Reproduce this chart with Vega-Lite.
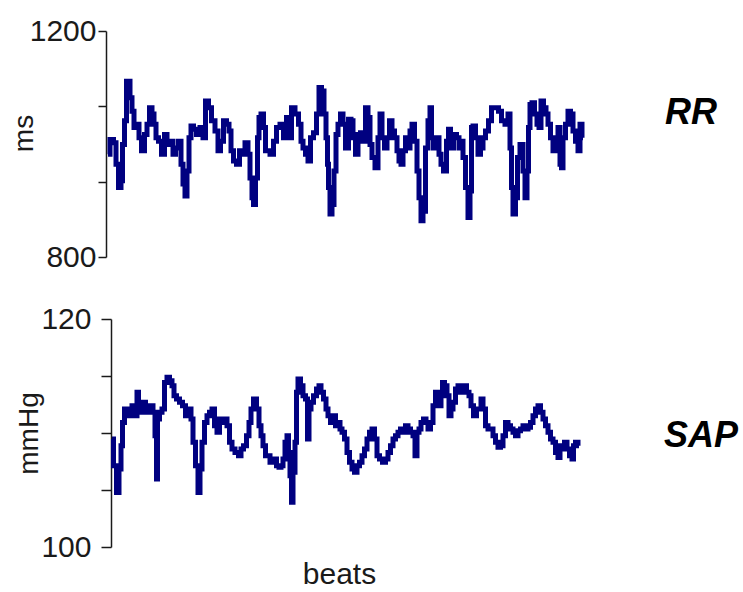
{
  "$schema": "https://vega.github.io/schema/vega-lite/v6.json",
  "background": "white",
  "padding": {"left": 10, "top": 16, "right": 0, "bottom": 0},
  "spacing": 32,
  "datasets": {
    "rr": [
      {"beat":2,"ms":982},{"beat":6,"ms":1008},{"beat":9,"ms":1002},{"beat":11,"ms":964},{"beat":14,"ms":923},{"beat":16,"ms":935},{"beat":17,"ms":999},{"beat":20,"ms":1041},{"beat":21,"ms":1111},{"beat":23,"ms":1111},{"beat":25,"ms":1082},{"beat":27,"ms":1058},{"beat":29,"ms":1029},{"beat":32,"ms":1035},{"beat":34,"ms":1011},{"beat":37,"ms":988},{"beat":40,"ms":1017},{"beat":42,"ms":1035},{"beat":45,"ms":1064},{"beat":47,"ms":1053},{"beat":49,"ms":1035},{"beat":51,"ms":1011},{"beat":54,"ms":1005},{"beat":57,"ms":982},{"beat":60,"ms":1017},{"beat":62,"ms":999},{"beat":66,"ms":1005},{"beat":68,"ms":982},{"beat":71,"ms":993},{"beat":74,"ms":1005},{"beat":76,"ms":964},{"beat":78,"ms":929},{"beat":80,"ms":908},{"beat":82,"ms":952},{"beat":84,"ms":1011},{"beat":86,"ms":1032},{"beat":89,"ms":1026},{"beat":92,"ms":1017},{"beat":96,"ms":1029},{"beat":98,"ms":1011},{"beat":101,"ms":1076},{"beat":104,"ms":1064},{"beat":107,"ms":1041},{"beat":111,"ms":1023},{"beat":113,"ms":988},{"beat":116,"ms":1005},{"beat":119,"ms":1041},{"beat":122,"ms":1035},{"beat":124,"ms":1023},{"beat":126,"ms":988},{"beat":129,"ms":970},{"beat":132,"ms":964},{"beat":135,"ms":988},{"beat":137,"ms":982},{"beat":141,"ms":1002},{"beat":143,"ms":982},{"beat":145,"ms":940},{"beat":147,"ms":905},{"beat":148,"ms":893},{"beat":151,"ms":940},{"beat":152,"ms":1011},{"beat":154,"ms":1047},{"beat":156,"ms":1053},{"beat":159,"ms":1029},{"beat":160,"ms":988},{"beat":162,"ms":988},{"beat":166,"ms":982},{"beat":169,"ms":1005},{"beat":172,"ms":1029},{"beat":176,"ms":1035},{"beat":179,"ms":1011},{"beat":182,"ms":1047},{"beat":184,"ms":1011},{"beat":187,"ms":1064},{"beat":191,"ms":1053},{"beat":194,"ms":1035},{"beat":196,"ms":1005},{"beat":198,"ms":993},{"beat":201,"ms":982},{"beat":203,"ms":970},{"beat":206,"ms":1011},{"beat":209,"ms":1020},{"beat":212,"ms":1053},{"beat":214,"ms":1100},{"beat":217,"ms":1094},{"beat":219,"ms":1053},{"beat":221,"ms":1011},{"beat":222,"ms":964},{"beat":223,"ms":923},{"beat":225,"ms":876},{"beat":227,"ms":893},{"beat":229,"ms":952},{"beat":231,"ms":1017},{"beat":233,"ms":1035},{"beat":236,"ms":1053},{"beat":238,"ms":1035},{"beat":241,"ms":993},{"beat":244,"ms":1044},{"beat":246,"ms":1041},{"beat":248,"ms":1011},{"beat":251,"ms":982},{"beat":253,"ms":1017},{"beat":256,"ms":1020},{"beat":258,"ms":1005},{"beat":261,"ms":1064},{"beat":263,"ms":1047},{"beat":265,"ms":999},{"beat":267,"ms":976},{"beat":271,"ms":958},{"beat":273,"ms":1011},{"beat":275,"ms":1053},{"beat":277,"ms":1011},{"beat":280,"ms":993},{"beat":282,"ms":1011},{"beat":285,"ms":1041},{"beat":287,"ms":1023},{"beat":290,"ms":1011},{"beat":292,"ms":988},{"beat":294,"ms":970},{"beat":296,"ms":964},{"beat":298,"ms":988},{"beat":301,"ms":1011},{"beat":303,"ms":993},{"beat":305,"ms":1023},{"beat":307,"ms":1035},{"beat":310,"ms":1005},{"beat":312,"ms":952},{"beat":314,"ms":905},{"beat":316,"ms":864},{"beat":318,"ms":881},{"beat":321,"ms":993},{"beat":323,"ms":1041},{"beat":325,"ms":1064},{"beat":326,"ms":1011},{"beat":329,"ms":993},{"beat":332,"ms":1011},{"beat":334,"ms":982},{"beat":336,"ms":964},{"beat":339,"ms":952},{"beat":342,"ms":1005},{"beat":343,"ms":1026},{"beat":346,"ms":993},{"beat":349,"ms":1017},{"beat":352,"ms":1011},{"beat":354,"ms":993},{"beat":356,"ms":1005},{"beat":358,"ms":976},{"beat":361,"ms":923},{"beat":363,"ms":870},{"beat":365,"ms":917},{"beat":366,"ms":1029},{"beat":368,"ms":1032},{"beat":371,"ms":1011},{"beat":373,"ms":982},{"beat":376,"ms":993},{"beat":378,"ms":1011},{"beat":381,"ms":1023},{"beat":384,"ms":1041},{"beat":387,"ms":1064},{"beat":391,"ms":1064},{"beat":394,"ms":1058},{"beat":397,"ms":1041},{"beat":401,"ms":1035},{"beat":403,"ms":1053},{"beat":405,"ms":993},{"beat":406,"ms":923},{"beat":408,"ms":876},{"beat":411,"ms":905},{"beat":412,"ms":976},{"beat":416,"ms":999},{"beat":418,"ms":952},{"beat":420,"ms":905},{"beat":422,"ms":952},{"beat":423,"ms":1029},{"beat":425,"ms":1070},{"beat":427,"ms":1073},{"beat":430,"ms":1053},{"beat":432,"ms":1035},{"beat":434,"ms":1029},{"beat":436,"ms":1076},{"beat":439,"ms":1064},{"beat":441,"ms":1053},{"beat":443,"ms":1035},{"beat":446,"ms":1011},{"beat":448,"ms":988},{"beat":451,"ms":999},{"beat":453,"ms":1029},{"beat":455,"ms":964},{"beat":456,"ms":958},{"beat":458,"ms":1011},{"beat":461,"ms":1035},{"beat":463,"ms":1058},{"beat":466,"ms":1053},{"beat":468,"ms":1023},{"beat":471,"ms":1005},{"beat":473,"ms":988},{"beat":475,"ms":1035},{"beat":477,"ms":1011}
    ],
    "sap": [
      {"beat":6,"mmHg":109.47},{"beat":9,"mmHg":107.13},{"beat":12,"mmHg":104.79},{"beat":14,"mmHg":106.84},{"beat":16,"mmHg":108.89},{"beat":17,"mmHg":110.93},{"beat":20,"mmHg":112.1},{"beat":22,"mmHg":111.52},{"beat":25,"mmHg":111.81},{"beat":27,"mmHg":112.4},{"beat":30,"mmHg":111.52},{"beat":32,"mmHg":113.57},{"beat":33,"mmHg":111.81},{"beat":36,"mmHg":112.4},{"beat":38,"mmHg":112.69},{"beat":41,"mmHg":111.81},{"beat":43,"mmHg":112.4},{"beat":46,"mmHg":112.4},{"beat":48,"mmHg":111.81},{"beat":50,"mmHg":109.76},{"beat":51,"mmHg":105.96},{"beat":52,"mmHg":111.23},{"beat":55,"mmHg":111.81},{"beat":57,"mmHg":112.1},{"beat":60,"mmHg":114.44},{"beat":62,"mmHg":114.88},{"beat":65,"mmHg":114.59},{"beat":67,"mmHg":114.15},{"beat":69,"mmHg":113.27},{"beat":72,"mmHg":112.98},{"beat":75,"mmHg":112.69},{"beat":78,"mmHg":112.4},{"beat":81,"mmHg":111.52},{"beat":84,"mmHg":112.1},{"beat":86,"mmHg":111.23},{"beat":88,"mmHg":109.18},{"beat":91,"mmHg":107.13},{"beat":93,"mmHg":104.79},{"beat":95,"mmHg":106.84},{"beat":97,"mmHg":109.18},{"beat":100,"mmHg":110.93},{"beat":102,"mmHg":111.52},{"beat":105,"mmHg":111.81},{"beat":107,"mmHg":112.1},{"beat":110,"mmHg":110.64},{"beat":112,"mmHg":110.06},{"beat":115,"mmHg":111.23},{"beat":117,"mmHg":110.93},{"beat":120,"mmHg":111.23},{"beat":122,"mmHg":110.64},{"beat":125,"mmHg":109.18},{"beat":127,"mmHg":108.6},{"beat":131,"mmHg":108.3},{"beat":134,"mmHg":108.01},{"beat":136,"mmHg":108.6},{"beat":139,"mmHg":108.89},{"beat":142,"mmHg":109.76},{"beat":144,"mmHg":110.93},{"beat":146,"mmHg":112.1},{"beat":149,"mmHg":112.98},{"beat":152,"mmHg":112.1},{"beat":154,"mmHg":110.64},{"beat":156,"mmHg":109.76},{"beat":158,"mmHg":108.89},{"beat":161,"mmHg":108.01},{"beat":162,"mmHg":108.01},{"beat":166,"mmHg":107.43},{"beat":169,"mmHg":107.72},{"beat":172,"mmHg":107.13},{"beat":174,"mmHg":106.99},{"beat":176,"mmHg":107.13},{"beat":178,"mmHg":107.72},{"beat":180,"mmHg":109.18},{"beat":182,"mmHg":109.76},{"beat":183,"mmHg":108.3},{"beat":185,"mmHg":106.26},{"beat":186,"mmHg":103.92},{"beat":188,"mmHg":106.55},{"beat":190,"mmHg":109.18},{"beat":191,"mmHg":113.57},{"beat":193,"mmHg":114.74},{"beat":196,"mmHg":114.15},{"beat":198,"mmHg":113.27},{"beat":201,"mmHg":112.98},{"beat":202,"mmHg":109.47},{"beat":204,"mmHg":112.1},{"beat":206,"mmHg":112.69},{"beat":209,"mmHg":113.27},{"beat":212,"mmHg":113.86},{"beat":214,"mmHg":114.15},{"beat":216,"mmHg":113.57},{"beat":219,"mmHg":112.98},{"beat":221,"mmHg":112.1},{"beat":223,"mmHg":111.52},{"beat":226,"mmHg":110.93},{"beat":228,"mmHg":111.52},{"beat":231,"mmHg":110.64},{"beat":233,"mmHg":110.93},{"beat":235,"mmHg":110.35},{"beat":237,"mmHg":110.06},{"beat":240,"mmHg":109.47},{"beat":242,"mmHg":108.3},{"beat":245,"mmHg":107.43},{"beat":247,"mmHg":106.84},{"beat":250,"mmHg":106.55},{"beat":252,"mmHg":107.13},{"beat":255,"mmHg":107.43},{"beat":257,"mmHg":108.01},{"beat":260,"mmHg":108.6},{"beat":262,"mmHg":109.47},{"beat":265,"mmHg":110.06},{"beat":267,"mmHg":110.35},{"beat":270,"mmHg":109.47},{"beat":272,"mmHg":108.01},{"beat":275,"mmHg":107.72},{"beat":278,"mmHg":107.43},{"beat":281,"mmHg":107.72},{"beat":283,"mmHg":108.3},{"beat":286,"mmHg":108.89},{"beat":288,"mmHg":109.47},{"beat":291,"mmHg":109.76},{"beat":293,"mmHg":110.06},{"beat":296,"mmHg":110.35},{"beat":298,"mmHg":110.06},{"beat":301,"mmHg":110.64},{"beat":303,"mmHg":110.35},{"beat":306,"mmHg":110.06},{"beat":308,"mmHg":109.76},{"beat":310,"mmHg":108.01},{"beat":312,"mmHg":110.06},{"beat":314,"mmHg":110.35},{"beat":316,"mmHg":110.93},{"beat":319,"mmHg":111.23},{"beat":321,"mmHg":110.93},{"beat":323,"mmHg":110.35},{"beat":326,"mmHg":110.93},{"beat":328,"mmHg":112.4},{"beat":331,"mmHg":113.57},{"beat":332,"mmHg":113.27},{"beat":334,"mmHg":112.4},{"beat":336,"mmHg":113.27},{"beat":337,"mmHg":114.44},{"beat":340,"mmHg":114.15},{"beat":342,"mmHg":113.27},{"beat":344,"mmHg":111.52},{"beat":346,"mmHg":112.1},{"beat":348,"mmHg":112.69},{"beat":351,"mmHg":113.86},{"beat":353,"mmHg":114.15},{"beat":355,"mmHg":113.57},{"beat":357,"mmHg":113.86},{"beat":359,"mmHg":114.15},{"beat":362,"mmHg":113.57},{"beat":364,"mmHg":113.27},{"beat":366,"mmHg":112.4},{"beat":369,"mmHg":111.52},{"beat":372,"mmHg":112.1},{"beat":374,"mmHg":112.1},{"beat":376,"mmHg":112.98},{"beat":378,"mmHg":112.1},{"beat":381,"mmHg":110.64},{"beat":383,"mmHg":110.35},{"beat":386,"mmHg":110.35},{"beat":388,"mmHg":109.76},{"beat":391,"mmHg":109.18},{"beat":393,"mmHg":108.74},{"beat":396,"mmHg":108.89},{"beat":398,"mmHg":109.76},{"beat":401,"mmHg":110.93},{"beat":403,"mmHg":110.64},{"beat":406,"mmHg":110.35},{"beat":408,"mmHg":110.06},{"beat":411,"mmHg":109.76},{"beat":413,"mmHg":110.2},{"beat":416,"mmHg":110.35},{"beat":418,"mmHg":110.64},{"beat":421,"mmHg":110.35},{"beat":423,"mmHg":110.5},{"beat":426,"mmHg":110.93},{"beat":428,"mmHg":111.52},{"beat":431,"mmHg":112.1},{"beat":433,"mmHg":112.4},{"beat":436,"mmHg":111.81},{"beat":438,"mmHg":111.23},{"beat":441,"mmHg":110.64},{"beat":443,"mmHg":110.06},{"beat":446,"mmHg":109.47},{"beat":448,"mmHg":109.18},{"beat":451,"mmHg":108.3},{"beat":453,"mmHg":107.86},{"beat":455,"mmHg":108.89},{"beat":457,"mmHg":108.6},{"beat":460,"mmHg":109.18},{"beat":462,"mmHg":108.6},{"beat":465,"mmHg":108.01},{"beat":467,"mmHg":107.72},{"beat":468,"mmHg":108.89},{"beat":471,"mmHg":109.18},{"beat":473,"mmHg":108.89}
    ]
  },
  "vconcat": [
    {
      "width": 608,
      "height": 226,
      "layer": [
        {
          "data": {"name": "rr"},
          "mark": {"type": "line", "color": "#000080", "strokeWidth": 5, "interpolate": "step"},
          "encoding": {
            "x": {"field": "beat", "type": "quantitative", "scale": {"domain": [0, 608], "nice": false}, "axis": null},
            "y": {"field": "ms", "type": "quantitative", "scale": {"domain": [800, 1200], "nice": false},
                  "axis": {"title": "ms", "values": [800, 933.333, 1066.667, 1200], "format": "d",
                           "labelExpr": "datum.value == 800 || datum.value == 1200 ? datum.label : ''",
                           "tickSize": 8, "labelPadding": 2, "titlePadding": -9, "titleY": 102}}
          }
        },
        {
          "data": {"values": [{"beat": 585, "ms": 1055, "label": "RR"}]},
          "mark": {"type": "text", "font": "Liberation Sans", "fontSize": 36, "fontStyle": "italic", "fontWeight": "bold", "color": "black", "align": "center", "baseline": "middle"},
          "encoding": {
            "x": {"field": "beat", "type": "quantitative"},
            "y": {"field": "ms", "type": "quantitative"},
            "text": {"field": "label"}
          }
        }
      ]
    },
    {
      "width": 608,
      "height": 228,
      "layer": [
        {
          "data": {"name": "sap"},
          "mark": {"type": "line", "color": "#000080", "strokeWidth": 5, "interpolate": "step"},
          "encoding": {
            "x": {"field": "beat", "type": "quantitative", "scale": {"domain": [0, 608], "nice": false},
                  "axis": {"title": "beats", "labels": false, "ticks": false, "domain": false, "titlePadding": 12, "titleFontSize": 30, "titleX": 233}},
            "y": {"field": "mmHg", "type": "quantitative", "scale": {"domain": [100, 120], "nice": false},
                  "axis": {"title": "mmHg", "values": [100, 105, 110, 115, 120], "format": "d",
                           "labelExpr": "datum.value == 100 || datum.value == 120 ? datum.label : ''",
                           "tickSize": 10, "labelPadding": 10, "titlePadding": -3, "offset": -5}}
          }
        },
        {
          "data": {"values": [{"beat": 595, "mmHg": 109.7, "label": "SAP"}]},
          "mark": {"type": "text", "font": "Liberation Sans", "fontSize": 36, "fontStyle": "italic", "fontWeight": "bold", "color": "black", "align": "center", "baseline": "middle"},
          "encoding": {
            "x": {"field": "beat", "type": "quantitative"},
            "y": {"field": "mmHg", "type": "quantitative"},
            "text": {"field": "label"}
          }
        }
      ]
    }
  ],
  "config": {
    "view": {"stroke": null},
    "axis": {
      "grid": false,
      "labelFont": "Liberation Sans", "titleFont": "Liberation Sans",
      "labelFontSize": 30, "titleFontSize": 28, "titleFontWeight": "normal",
      "labelColor": "#1a1a1a", "titleColor": "#1a1a1a",
      "domainColor": "#1a1a1a", "tickColor": "#1a1a1a",
      "domainWidth": 1.5, "tickWidth": 1.5
    }
  }
}
